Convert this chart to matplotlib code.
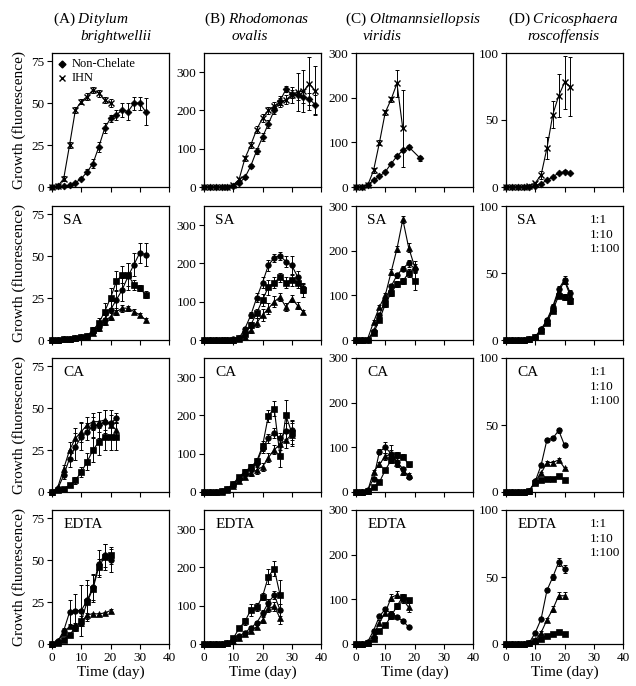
import glob
import matplotlib
matplotlib.use('Agg')
import matplotlib.pyplot as plt
from matplotlib import font_manager as fm

for _p in glob.glob('/usr/share/fonts/**/*iberation*erif*.ttf', recursive=True) + \
        glob.glob('/usr/local/share/fonts/**/*iberation*erif*.ttf', recursive=True):
    try:
        fm.fontManager.addfont(_p)
    except Exception:
        pass

_names = {f.name for f in fm.fontManager.ttflist}
SERIF = 'Liberation Serif' if 'Liberation Serif' in _names else 'DejaVu Serif'

plt.rcParams['font.family'] = [SERIF, 'DejaVu Serif']
plt.rcParams['mathtext.fontset'] = 'custom'
plt.rcParams['mathtext.rm'] = SERIF
plt.rcParams['mathtext.it'] = SERIF + ':italic'

# ---------------- column titles / labels ----------------
col_tag = ['(A)', '(B)', '(C)', '(D)']
col_genus = ['Ditylum', 'Rhodomonas', 'Oltmannsiellopsis', 'Cricosphaera']
col_species = ['brightwellii', 'ovalis', 'viridis', 'roscoffensis']
row_names = ['', 'SA', 'CA', 'EDTA']
ratio_labels = ['1:1', '1:10', '1:100']
legend_labels = ['Non-Chelate', 'IHN']
x_ticks = [0, 10, 20, 30, 40]
col_ymax = [80, 350, 300, 100]
col_yticks = [[0, 25, 50, 75], [0, 100, 200, 300], [0, 100, 200, 300], [0, 50, 100]]

# ---------------- Row 1: Non-Chelate vs IHN ----------------
a_nc_day = [0, 2, 4, 6, 8, 10, 12, 14, 16, 18, 20, 22, 24, 26, 28, 30, 32]
a_nc = [0, 0.3, 0.5, 1, 2.5, 5, 9, 14, 24, 35, 41, 43, 46, 45, 50, 50, 45]
a_nc_err = [0, 0, 0, 0.5, 0.5, 1, 1.5, 2.5, 3, 3, 2, 3, 4, 5, 4, 4, 8]
a_ihn_day = [0, 2, 4, 6, 8, 10, 12, 14, 16, 18, 20]
a_ihn = [0, 0.5, 5, 25, 46, 51, 54, 58, 56, 52, 50]
a_ihn_err = [0, 0.3, 1.5, 2, 2, 1.5, 2, 2, 2, 2, 2.5]

b_day = [0, 2, 4, 6, 8, 10, 12, 14, 16, 18, 20, 22, 24, 26, 28, 30, 32, 34, 36, 38]
b_nc = [0, 0, 0, 0, 0, 2, 10, 25, 55, 95, 130, 165, 200, 225, 255, 243, 240, 235, 230, 215]
b_nc_err = [0, 0, 0, 0, 0, 1, 3, 5, 6, 8, 10, 10, 10, 12, 8, 10, 12, 15, 15, 25]
b_ihn = [0, 0, 0, 0, 1, 5, 20, 75, 110, 150, 180, 200, 212, 220, 228, 240, 248, 250, 270, 252]
b_ihn_err = [0, 0, 0, 0, 1, 2, 4, 6, 8, 10, 10, 10, 10, 12, 12, 20, 50, 55, 70, 65]

c_nc_day = [0, 2, 4, 6, 8, 10, 12, 14, 16, 18, 22]
c_nc = [0, 0, 5, 15, 24, 34, 52, 69, 82, 90, 64]
c_nc_err = [0, 0, 1, 2, 2, 3, 3, 4, 4, 4, 5]
c_ihn_day = [0, 2, 4, 6, 8, 10, 12, 14, 16]
c_ihn = [0, 0, 4, 37, 99, 167, 196, 232, 131]
c_ihn_err = [0, 0, 2, 6, 6, 6, 6, 30, 87]

d_day = [0, 2, 4, 6, 8, 10, 12, 14, 16, 18, 20, 22]
d_nc = [0, 0, 0, 0, 0, 1, 2.5, 5, 7.5, 10.5, 11.5, 10.5]
d_nc_err = [0, 0, 0, 0, 0, 0.3, 0.5, 0.8, 1, 1, 1, 1]
d_ihn = [0, 0, 0, 0, 1, 3, 9, 29, 54, 68, 78, 75]
d_ihn_err = [0, 0, 0, 0, 0.5, 1, 3, 8, 10, 16, 20, 22]

# ---------------- Row 2: SA ----------------
sa_a_day = [0, 2, 4, 6, 8, 10, 12, 14, 16, 18, 20, 22, 24, 26, 28, 30, 32]
sa_a_11 = [0, 0, 0.3, 0.5, 1, 1.5, 2.5, 5, 8, 12, 18, 24, 30, 38, 45, 52, 51]
sa_a_11_err = [0, 0, 0.2, 0.3, 0.4, 0.5, 0.8, 1.5, 2, 3, 5, 6, 7, 8, 7, 6, 7]
sa_a_110 = [0, 0, 0.3, 0.5, 1, 1.5, 2, 4, 7, 11, 14, 17, 19, 19, 17, 15, 12]
sa_a_110_err = [0, 0, 0.2, 0.3, 0.4, 0.5, 0.6, 1, 1.5, 2, 2, 2, 2, 1.5, 1.5, 1, 1]
sa_a_1100 = [0, 0, 0.3, 0.5, 1, 1.5, 2.5, 6, 10, 17, 25, 35, 39, 39, 33, 31, 27]
sa_a_1100_err = [0, 0, 0.2, 0.3, 0.4, 0.5, 0.8, 2, 3, 5, 6, 6, 5, 7, 3, 2, 2]

sa_b_day = [0, 2, 4, 6, 8, 10, 12, 14, 16, 18, 20, 22, 24, 26, 28, 30, 32, 34]
sa_b_11 = [0, 0, 0, 0, 0, 2, 5, 30, 65, 110, 150, 195, 215, 220, 205, 195, 165, 135]
sa_b_11_err = [0, 0, 0, 0, 0, 1, 2, 5, 8, 12, 15, 15, 10, 10, 15, 25, 15, 12]
sa_b_110 = [0, 0, 0, 0, 0, 1, 3, 8, 25, 45, 65, 82, 100, 112, 86, 108, 90, 73]
sa_b_110_err = [0, 0, 0, 0, 0, 1, 1, 3, 8, 12, 15, 15, 15, 10, 10, 10, 8, 6]
sa_b_1100 = [0, 0, 0, 0, 0, 1, 4, 15, 40, 70, 105, 138, 150, 164, 150, 157, 150, 130]
sa_b_1100_err = [0, 0, 0, 0, 0, 1, 2, 5, 8, 12, 15, 20, 15, 12, 15, 15, 15, 18]

sa_c_day = [0, 2, 4, 6, 8, 10, 12, 14, 16, 18, 20]
sa_c_11 = [0, 0, 1, 20, 55, 90, 120, 145, 160, 172, 160]
sa_c_11_err = [0, 0, 1, 3, 5, 6, 6, 6, 6, 8, 10]
sa_c_110 = [0, 0, 3, 40, 74, 100, 152, 204, 270, 207, 165]
sa_c_110_err = [0, 0, 1, 4, 5, 6, 6, 6, 8, 10, 12]
sa_c_1100 = [0, 0, 1, 15, 45, 80, 105, 125, 132, 150, 132]
sa_c_1100_err = [0, 0, 1, 3, 5, 6, 6, 6, 6, 10, 20]

sa_d_day = [0, 2, 4, 6, 8, 10, 12, 14, 16, 18, 20, 22]
sa_d_11 = [0, 0, 0, 0, 0.5, 2.5, 8, 15, 25, 38, 45, 35]
sa_d_11_err = [0, 0, 0, 0, 0.3, 0.5, 1, 1.5, 2, 2, 2.5, 2]
sa_d_110 = [0, 0, 0, 0, 0.5, 2.5, 8, 14, 24, 36, 44, 33]
sa_d_110_err = [0, 0, 0, 0, 0.3, 0.5, 1, 1.5, 2, 2, 2.5, 2]
sa_d_1100 = [0, 0, 0, 0, 0.5, 2, 7, 13, 22, 33, 32, 29]
sa_d_1100_err = [0, 0, 0, 0, 0.3, 0.5, 1, 1.5, 2, 2, 2, 2]

# ---------------- Row 3: CA ----------------
ca_a_day = [0, 2, 4, 6, 8, 10, 12, 14, 16, 18, 20, 22]
ca_a_11 = [0, 2, 10, 20, 27, 33, 36, 39, 40, 42, 41, 44]
ca_a_11_err = [0, 0.5, 2, 5, 8, 8, 5, 6, 8, 7, 8, 3]
ca_a_110 = [0, 3, 14, 25, 32, 36, 40, 42, 42, 43, 40, 37]
ca_a_110_err = [0, 0.5, 2, 5, 6, 6, 5, 5, 6, 6, 6, 5]
ca_a_1100 = [0, 1, 2, 4, 7, 12, 18, 25, 30, 33, 33, 33]
ca_a_1100_err = [0, 0.5, 1, 1, 2, 3, 5, 7, 8, 8, 8, 8]

ca_b_day = [0, 2, 4, 6, 8, 10, 12, 14, 16, 18, 20, 22, 24, 26, 28, 30]
ca_b_11 = [0, 0, 0, 2, 8, 20, 35, 48, 60, 75, 115, 140, 154, 140, 159, 162]
ca_b_11_err = [0, 0, 0, 1, 2, 4, 5, 6, 8, 10, 12, 12, 12, 15, 20, 25]
ca_b_110 = [0, 0, 0, 1, 6, 15, 28, 40, 50, 57, 66, 90, 110, 125, 135, 150]
ca_b_110_err = [0, 0, 0, 1, 2, 4, 5, 6, 8, 10, 10, 12, 12, 15, 20, 30]
ca_b_1100 = [0, 0, 0, 2, 9, 22, 40, 53, 66, 80, 120, 199, 218, 93, 200, 155]
ca_b_1100_err = [0, 0, 0, 1, 3, 4, 5, 6, 8, 10, 12, 15, 20, 28, 40, 30]

ca_c_day = [0, 2, 4, 6, 8, 10, 12, 14, 16, 18]
ca_c_11 = [0, 0, 4, 30, 90, 100, 86, 68, 52, 34]
ca_c_11_err = [0, 0, 1, 4, 6, 13, 20, 10, 5, 4]
ca_c_110 = [0, 0, 3, 45, 62, 80, 85, 64, 45, 38]
ca_c_110_err = [0, 0, 1, 5, 6, 8, 10, 8, 6, 5]
ca_c_1100 = [0, 0, 2, 12, 22, 49, 71, 83, 79, 62]
ca_c_1100_err = [0, 0, 1, 3, 4, 5, 6, 6, 5, 5]

ca_d_day = [0, 2, 4, 6, 8, 10, 12, 14, 16, 18, 20]
ca_d_11 = [0, 0, 0, 0, 1, 8, 20, 39, 40, 46, 35]
ca_d_11_err = [0, 0, 0, 0, 0.3, 1, 1, 1.5, 1.5, 2, 1.5]
ca_d_110 = [0, 0, 0, 0, 1, 8, 14, 22, 22, 24, 18]
ca_d_110_err = [0, 0, 0, 0, 0.3, 0.8, 1, 1, 1, 1.5, 1]
ca_d_1100 = [0, 0, 0, 0, 1, 7, 9, 9.5, 10, 12, 9]
ca_d_1100_err = [0, 0, 0, 0, 0.3, 0.5, 0.5, 0.6, 0.8, 0.8, 0.8]

# ---------------- Row 4: EDTA ----------------
ed_a_day = [0, 2, 4, 6, 8, 10, 12, 14, 16, 18, 20]
ed_a_11 = [0, 1.6, 8, 19, 20, 20, 26, 34, 48, 53, 50]
ed_a_11_err = [0, 0.5, 1.5, 7, 10, 15, 12, 8, 8, 7, 7]
ed_a_110 = [0, 1.5, 6.6, 10.6, 11.5, 12.5, 17.5, 18, 18, 18.5, 20]
ed_a_110_err = [0, 0.3, 0.5, 1, 1, 1, 1, 0.8, 0.8, 0.8, 0.8]
ed_a_1100 = [0, 0.5, 2.6, 5.6, 9.6, 14, 25, 33, 46, 52, 53]
ed_a_1100_err = [0, 0.3, 0.5, 1, 2, 3, 10, 8, 5, 8, 5]

ed_b_day = [0, 2, 4, 6, 8, 10, 12, 14, 16, 18, 20, 22, 24, 26]
ed_b_11 = [0, 0, 0, 0, 2, 10, 20, 30, 42, 55, 80, 108, 128, 89]
ed_b_11_err = [0, 0, 0, 0, 1, 2, 3, 4, 5, 6, 8, 10, 10, 15]
ed_b_110 = [0, 0, 0, 0, 2, 8, 15, 25, 35, 45, 63, 93, 98, 68]
ed_b_110_err = [0, 0, 0, 0, 1, 2, 3, 4, 5, 6, 8, 10, 12, 15]
ed_b_1100 = [0, 0, 0, 0, 3, 15, 41, 59, 89, 96, 124, 176, 197, 128]
ed_b_1100_err = [0, 0, 0, 0, 1, 3, 5, 10, 15, 10, 10, 20, 20, 40]

ed_c_day = [0, 2, 4, 6, 8, 10, 12, 14, 16, 18]
ed_c_11 = [0, 0, 5, 30, 62, 78, 68, 60, 52, 38]
ed_c_11_err = [0, 0, 1, 3, 4, 5, 5, 4, 4, 3]
ed_c_110 = [0, 0, 3, 20, 48, 70, 104, 110, 100, 82]
ed_c_110_err = [0, 0, 1, 3, 5, 6, 8, 8, 8, 10]
ed_c_1100 = [0, 0, 2, 11, 30, 42, 62, 85, 106, 98]
ed_c_1100_err = [0, 0, 1, 2, 4, 5, 6, 6, 6, 6]

ed_d_day = [0, 2, 4, 6, 8, 10, 12, 14, 16, 18, 20]
ed_d_11 = [0, 0, 0, 0, 1, 8.5, 18.6, 40, 50, 61, 56]
ed_d_11_err = [0, 0, 0, 0, 0.3, 0.5, 1, 1.5, 2, 3, 3]
ed_d_110 = [0, 0, 0, 0, 0.5, 3, 8.5, 18, 26, 36, 36]
ed_d_110_err = [0, 0, 0, 0, 0.3, 0.5, 1, 1.5, 2, 2.5, 2.5]
ed_d_1100 = [0, 0, 0, 0, 0.5, 2, 4, 6, 7.7, 9, 7.2]
ed_d_1100_err = [0, 0, 0, 0, 0.2, 0.3, 0.4, 0.5, 0.5, 0.5, 0.5]

# ---------------- layout (pixels) ----------------
W, H = 636, 686
fig = plt.figure(figsize=(W / 100, H / 100), dpi=100)
col_left = [52, 204, 356, 506]
row_bottom = [187, 340, 492, 644]
AXW, AXH = 117, 134

STYLE = {'circle': ('o', 4.0), 'tri': ('^', 4.4), 'square': ('s', 3.8),
         'diamond': ('D', 3.5), 'x': ('x', 4.5)}


def draw(ax, x, y, e, kind):
    m, ms = STYLE[kind]
    ax.errorbar(x, y, yerr=e, fmt='none', ecolor='black', elinewidth=0.7,
                capsize=1.7, capthick=0.7, clip_on=False, zorder=2)
    ax.plot(x, y, color='black', lw=0.8, marker=m, ms=ms, mfc='black',
            mec='black', mew=1.0 if kind == 'x' else 0.5, clip_on=False, zorder=3)


panels = {
    (0, 0): [(a_nc_day, a_nc, a_nc_err, 'diamond'), (a_ihn_day, a_ihn, a_ihn_err, 'x')],
    (0, 1): [(b_day, b_nc, b_nc_err, 'diamond'), (b_day, b_ihn, b_ihn_err, 'x')],
    (0, 2): [(c_nc_day, c_nc, c_nc_err, 'diamond'), (c_ihn_day, c_ihn, c_ihn_err, 'x')],
    (0, 3): [(d_day, d_nc, d_nc_err, 'diamond'), (d_day, d_ihn, d_ihn_err, 'x')],
    (1, 0): [(sa_a_day, sa_a_11, sa_a_11_err, 'circle'), (sa_a_day, sa_a_110, sa_a_110_err, 'tri'),
             (sa_a_day, sa_a_1100, sa_a_1100_err, 'square')],
    (1, 1): [(sa_b_day, sa_b_11, sa_b_11_err, 'circle'), (sa_b_day, sa_b_110, sa_b_110_err, 'tri'),
             (sa_b_day, sa_b_1100, sa_b_1100_err, 'square')],
    (1, 2): [(sa_c_day, sa_c_11, sa_c_11_err, 'circle'), (sa_c_day, sa_c_110, sa_c_110_err, 'tri'),
             (sa_c_day, sa_c_1100, sa_c_1100_err, 'square')],
    (1, 3): [(sa_d_day, sa_d_11, sa_d_11_err, 'circle'), (sa_d_day, sa_d_110, sa_d_110_err, 'tri'),
             (sa_d_day, sa_d_1100, sa_d_1100_err, 'square')],
    (2, 0): [(ca_a_day, ca_a_11, ca_a_11_err, 'circle'), (ca_a_day, ca_a_110, ca_a_110_err, 'tri'),
             (ca_a_day, ca_a_1100, ca_a_1100_err, 'square')],
    (2, 1): [(ca_b_day, ca_b_11, ca_b_11_err, 'circle'), (ca_b_day, ca_b_110, ca_b_110_err, 'tri'),
             (ca_b_day, ca_b_1100, ca_b_1100_err, 'square')],
    (2, 2): [(ca_c_day, ca_c_11, ca_c_11_err, 'circle'), (ca_c_day, ca_c_110, ca_c_110_err, 'tri'),
             (ca_c_day, ca_c_1100, ca_c_1100_err, 'square')],
    (2, 3): [(ca_d_day, ca_d_11, ca_d_11_err, 'circle'), (ca_d_day, ca_d_110, ca_d_110_err, 'tri'),
             (ca_d_day, ca_d_1100, ca_d_1100_err, 'square')],
    (3, 0): [(ed_a_day, ed_a_11, ed_a_11_err, 'circle'), (ed_a_day, ed_a_110, ed_a_110_err, 'tri'),
             (ed_a_day, ed_a_1100, ed_a_1100_err, 'square')],
    (3, 1): [(ed_b_day, ed_b_11, ed_b_11_err, 'circle'), (ed_b_day, ed_b_110, ed_b_110_err, 'tri'),
             (ed_b_day, ed_b_1100, ed_b_1100_err, 'square')],
    (3, 2): [(ed_c_day, ed_c_11, ed_c_11_err, 'circle'), (ed_c_day, ed_c_110, ed_c_110_err, 'tri'),
             (ed_c_day, ed_c_1100, ed_c_1100_err, 'square')],
    (3, 3): [(ed_d_day, ed_d_11, ed_d_11_err, 'circle'), (ed_d_day, ed_d_110, ed_d_110_err, 'tri'),
             (ed_d_day, ed_d_1100, ed_d_1100_err, 'square')],
}

TICK_FS = 9.5
LABEL_FS = 11

for r in range(4):
    for c in range(4):
        l = col_left[c]
        b = row_bottom[r]
        ax = fig.add_axes([l / W, 1 - b / H, AXW / W, AXH / H])
        for x, y, e, kind in panels[(r, c)]:
            draw(ax, x, y, e, kind)
        ax.set_xlim(0, 40)
        ax.set_ylim(0, col_ymax[c])
        ax.set_xticks(x_ticks)
        ax.set_yticks(col_yticks[c])
        ax.tick_params(direction='out', length=3.5, width=0.8, labelsize=TICK_FS, pad=2,
                       top=False, right=False)
        if r < 3:
            ax.set_xticklabels([])
        else:
            ax.set_xlabel('Time (day)', fontsize=LABEL_FS, labelpad=1)
        for s in ax.spines.values():
            s.set_linewidth(0.9)
        if r > 0:
            ax.text(0.095, 1 - 14 / AXH, row_names[r], transform=ax.transAxes,
                    fontsize=LABEL_FS, ha='left', va='center')
            if c == 3:
                for i, t in enumerate(ratio_labels):
                    ax.text(0.72, 1 - (14 + 14.5 * i) / AXH, t, transform=ax.transAxes,
                            fontsize=9.5, ha='left', va='center')
        if r == 0 and c == 0:
            ax.plot([0.085], [1 - 11 / AXH], transform=ax.transAxes, marker='D', ms=3.5,
                    color='black', clip_on=False)
            ax.plot([0.085], [1 - 25 / AXH], transform=ax.transAxes, marker='x', ms=4.5,
                    mew=1.0, color='black', clip_on=False)
            ax.text(0.17, 1 - 11 / AXH, legend_labels[0], transform=ax.transAxes,
                    fontsize=9, ha='left', va='center')
            ax.text(0.17, 1 - 25 / AXH, legend_labels[1], transform=ax.transAxes,
                    fontsize=9, ha='left', va='center')

# row y labels
for r in range(4):
    yc = row_bottom[r] - AXH / 2
    fig.text(19 / W, 1 - yc / H, 'Growth (fluorescence)', rotation=90,
             fontsize=LABEL_FS, ha='center', va='center')

# column titles
line1_x = [53, 204, 345, 508]
line2_x = [80, 232, 363, 527]
for c in range(4):
    fig.text(line1_x[c] / W, 1 - 23 / H, col_tag[c] + r' $\mathit{' + col_genus[c] + '}$',
             fontsize=LABEL_FS, ha='left', va='baseline')
    fig.text(line2_x[c] / W, 1 - 40 / H, col_species[c], fontstyle='italic',
             fontsize=LABEL_FS, ha='left', va='baseline')

fig.savefig('out.png', dpi=100)
